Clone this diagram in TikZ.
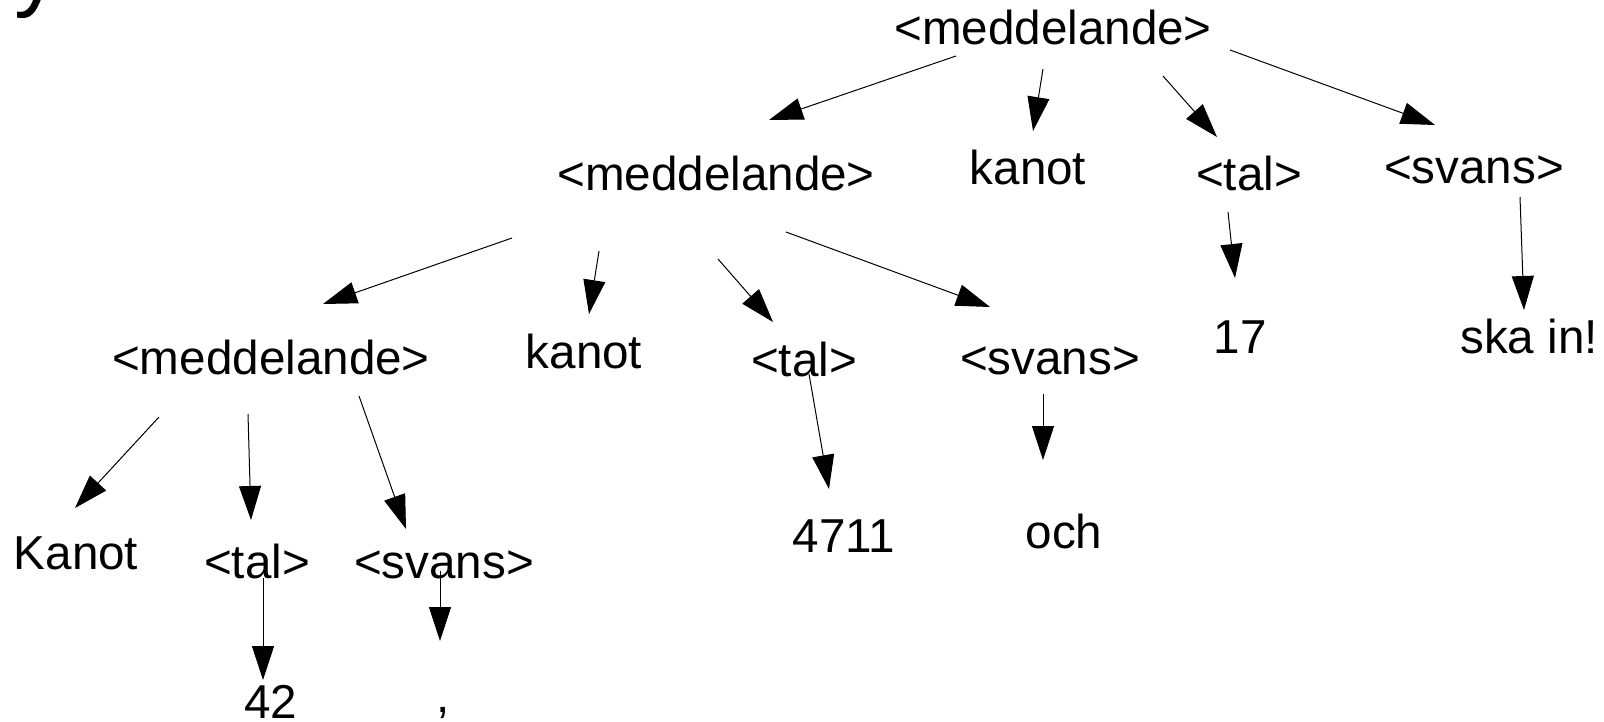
\documentclass[tikz,border=0pt]{standalone}
\usepackage{fontspec}
\setmainfont{Liberation Sans}
\usetikzlibrary{arrows.meta}
\tikzset{
  lbl/.style={anchor=base, inner sep=0pt, font=\fontsize{47.6}{56}\selectfont},
  arr/.style={line width=1pt, -{Triangle[length=34pt,width=22pt]}},
}
\begin{document}
\begin{tikzpicture}[x=1pt,y=-1pt]
\useasboundingbox (0,0) rectangle (1604,722);
\fill[white] (0,0) rectangle (1604,722);
\begin{scope}
\clip (0,0) rectangle (1604,722);
\node[anchor=base west, inner sep=0pt, font=\fontsize{92}{100}\selectfont] (yy) at (14,0) {y};
\end{scope}
% nodes
\node[lbl] (m1) at (1053,45) {<meddelande>};
\node[lbl] (m2) at (716,191) {<meddelande>};
\node[lbl] (k2) at (1028,185) {kanot};
\node[lbl] (t2) at (1249,191) {<tal>};
\node[lbl] (s2) at (1474,184) {<svans>};
\node[lbl] (m3) at (271,374) {<meddelande>};
\node[lbl] (k3) at (584,368) {kanot};
\node[lbl] (t3) at (804,376) {<tal>};
\node[lbl] (s3) at (1050,374) {<svans>};
\node[lbl] (n17) at (1240,353) {17};
\node[lbl] (ska) at (1529,353) {ska in!};
\node[lbl] (K4) at (76,569) {Kanot};
\node[lbl] (t4) at (257,578) {<tal>};
\node[lbl] (s4) at (444,578) {<svans>};
\node[lbl] (n4711) at (844,552) {4711};
\node[lbl] (och) at (1064,548) {och};
\node[lbl] (n42) at (271,718) {42};
\node[lbl] (comma) at (443,712) {,};
% connector end points
\coordinate (a1s) at (956,56);   \coordinate (a1e) at (769,120);
\coordinate (a2s) at (1043,69);  \coordinate (a2e) at (1033,131);
\coordinate (a3s) at (1163,76);  \coordinate (a3e) at (1217,137);
\coordinate (a4s) at (1230,50);  \coordinate (a4e) at (1435,125);
\coordinate (b1s) at (512,238);  \coordinate (b1e) at (323,304);
\coordinate (b2s) at (599,251);  \coordinate (b2e) at (589,314);
\coordinate (b3s) at (718,259);  \coordinate (b3e) at (773,322);
\coordinate (b4s) at (786,232);  \coordinate (b4e) at (990,307);
\coordinate (c1s) at (1228,212); \coordinate (c1e) at (1235,278);
\coordinate (c2s) at (1520,197); \coordinate (c2e) at (1524,310);
\coordinate (d1s) at (159,417);  \coordinate (d1e) at (75,508);
\coordinate (d2s) at (248,414);  \coordinate (d2e) at (251,520);
\coordinate (d3s) at (359,396);  \coordinate (d3e) at (406,529);
\coordinate (e1s) at (809,374);  \coordinate (e1e) at (829,489);
\coordinate (e2s) at (1043,394); \coordinate (e2e) at (1043,460);
\coordinate (f1s) at (263,578);  \coordinate (f1e) at (263,680);
\coordinate (f2s) at (440,571);  \coordinate (f2e) at (440,641);
% connectors
\draw[arr] (a1s) -- (a1e);
\draw[arr] (a2s) -- (a2e);
\draw[arr] (a3s) -- (a3e);
\draw[arr] (a4s) -- (a4e);
\draw[arr] (b1s) -- (b1e);
\draw[arr] (b2s) -- (b2e);
\draw[arr] (b3s) -- (b3e);
\draw[arr] (b4s) -- (b4e);
\draw[arr] (c1s) -- (c1e);
\draw[arr] (c2s) -- (c2e);
\draw[arr] (d1s) -- (d1e);
\draw[arr] (d2s) -- (d2e);
\draw[arr] (d3s) -- (d3e);
\draw[arr] (e1s) -- (e1e);
\draw[arr] (e2s) -- (e2e);
\draw[arr] (f1s) -- (f1e);
\draw[arr] (f2s) -- (f2e);
\end{tikzpicture}
\end{document}
